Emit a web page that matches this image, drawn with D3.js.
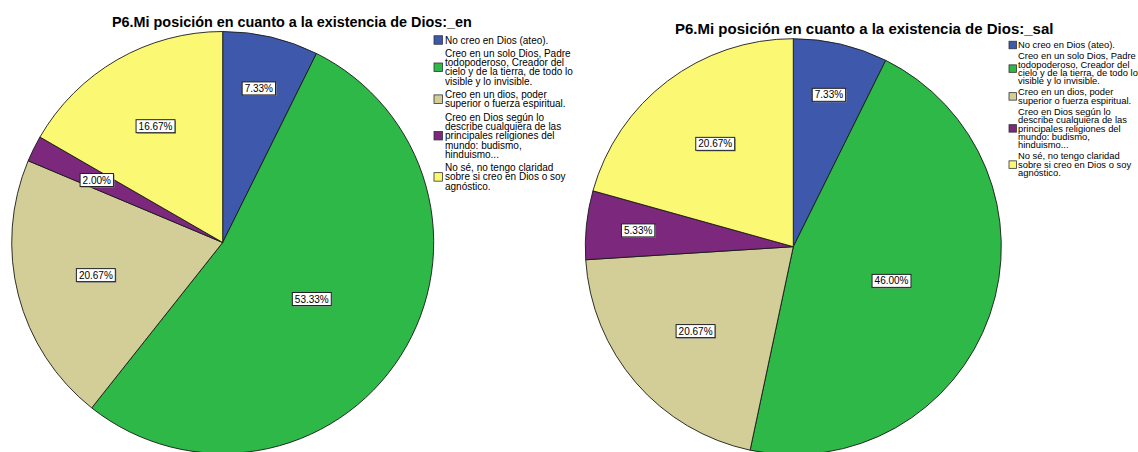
<!DOCTYPE html>
<html>
<head>
<meta charset="utf-8">
<script src="https://cdn.jsdelivr.net/npm/d3@7"></script>
<style>
  html, body { margin: 0; padding: 0; background: #fff; }
  svg { display: block; }
  text { font-family: "Liberation Sans", Arial, sans-serif; fill: #000; }
</style>
</head>
<body>
<svg id="chart" width="1138" height="452"></svg>
<script>
// Answer categories, in drawing order (clockwise from 12 o'clock)
const categories = [
  "No creo en Dios (ateo).",
  "Creo en un solo Dios, Padre todopoderoso, Creador del cielo y de la tierra, de todo lo visible y lo invisible.",
  "Creo en un dios, poder superior o fuerza espiritual.",
  "Creo en Dios según lo describe cualquiera de las principales religiones del mundo: budismo, hinduismo...",
  "No sé, no tengo claridad sobre si creo en Dios o soy agnóstico."
];

// Legend text broken into lines
const legendLines = [
  ["No creo en Dios (ateo)."],
  ["Creo en un solo Dios, Padre", "todopoderoso, Creador del", "cielo y de la tierra, de todo lo", "visible y lo invisible."],
  ["Creo en un dios, poder", "superior o fuerza espiritual."],
  ["Creo en Dios según lo", "describe cualquiera de las", "principales religiones del", "mundo: budismo,", "hinduismo..."],
  ["No sé, no tengo claridad", "sobre si creo en Dios o soy", "agnóstico."]
];

// Percentages per group
const valuesEn  = [7.33, 53.33, 20.67, 2.00, 16.67];
const valuesSal = [7.33, 46.00, 20.67, 5.33, 20.67];

const titles = [
  "P6.Mi posición en cuanto a la existencia de Dios:_en",
  "P6.Mi posición en cuanto a la existencia de Dios:_sal"
];

const sliceColors = ["#3E58AC", "#2EB848", "#D3CE97", "#7B287D", "#FBF873"];

const color = d3.scaleOrdinal().domain(categories).range(sliceColors);

const svg = d3.select("#chart");

const panels = [
  { values: valuesEn, title: titles[0],
    cx: 222.7, cy: 242.5, r: 211,
    titleX: 112, titleY: 26.5, titleSize: 14.4,
    legX: 434, legTextX: 445, legY: 40, legFont: 10, lineH: 9.3, gap: 4, sq: 8.5 },
  { values: valuesSal, title: titles[1],
    cx: 793.3, cy: 246.7, r: 208,
    titleX: 675, titleY: 34, titleSize: 15,
    legX: 1009, legTextX: 1018, legY: 45, legFont: 9.4, lineH: 8.4, gap: 2.6, sq: 7.5 }
];

const pie = d3.pie().sort(null).value(d => d.value);

const LABEL_W = 34, LABEL_H = 13;

panels.forEach(p => {
  const data = categories.map((c, i) => ({ category: c, value: p.values[i] }));
  const arcs = pie(data);
  const arc = d3.arc().innerRadius(0).outerRadius(p.r);

  const g = svg.append("g").attr("transform", `translate(${p.cx},${p.cy})`);

  g.selectAll("path.slice")
    .data(arcs)
    .join("path")
    .attr("class", "slice")
    .attr("d", arc)
    .attr("fill", d => color(d.data.category))
    .attr("stroke", "#1a1a1a")
    .attr("stroke-width", 0.9)
    .attr("stroke-linejoin", "round");

  // Value labels: narrow slices whose chord can hold the box get it pushed
  // out to 3/4 of the radius; others sit on the slice's area centroid,
  // never closer than half a radius to the centre.
  function labelRadius(d) {
    const half = (d.endAngle - d.startAngle) / 2;
    const frac = (d.endAngle - d.startAngle) / (2 * Math.PI);
    const outer = 0.75 * p.r;
    if (frac < 0.1 && 2 * outer * Math.sin(half) > LABEL_W + 10) return outer;
    return Math.max(2 * Math.sin(half) / (3 * half), 0.5) * p.r;
  }

  const labels = g.selectAll("g.lbl")
    .data(arcs)
    .join("g")
    .attr("class", "lbl")
    .attr("transform", d => {
      const mid = (d.startAngle + d.endAngle) / 2;
      const rr = labelRadius(d);
      return `translate(${rr * Math.sin(mid)},${-rr * Math.cos(mid)})`;
    });

  labels.each(function(d) {
    const sel = d3.select(this);
    const txt = d.data.value.toFixed(2) + "%";
    const t = sel.append("text")
      .attr("text-anchor", "middle")
      .attr("dy", "0.35em")
      .style("font-size", "10px")
      .text(txt);
    const w = t.node().getComputedTextLength() + 5;
    const h = LABEL_H;
    sel.insert("rect", "text")
      .attr("x", -w / 2 + 1).attr("y", -h / 2 + 1)
      .attr("width", w).attr("height", h)
      .attr("fill", "#8a8a8a");
    sel.insert("rect", "text")
      .attr("x", -w / 2).attr("y", -h / 2)
      .attr("width", w).attr("height", h)
      .attr("fill", "#fff")
      .attr("stroke", "#222")
      .attr("stroke-width", 1);
  });

  // title
  svg.append("text")
    .attr("x", p.titleX).attr("y", p.titleY)
    .style("font-size", p.titleSize + "px")
    .style("font-weight", "bold")
    .text(p.title);

  // legend
  const leg = svg.append("g");
  let y = p.legY;
  categories.forEach((c, i) => {
    const lines = legendLines[i];
    const first = y;
    lines.forEach((ln, j) => {
      leg.append("text")
        .attr("x", p.legTextX).attr("y", first + j * p.lineH)
        .attr("dy", "0.35em")
        .style("font-size", p.legFont + "px")
        .text(ln);
    });
    const midY = first + (lines.length - 1) * p.lineH / 2;
    leg.append("rect")
      .attr("x", p.legX).attr("y", midY - p.sq / 2)
      .attr("width", p.sq).attr("height", p.sq)
      .attr("fill", color(c))
      .attr("stroke", "#333")
      .attr("stroke-width", 0.8);
    y = first + lines.length * p.lineH + p.gap;
  });
});
</script>
</body>
</html>
